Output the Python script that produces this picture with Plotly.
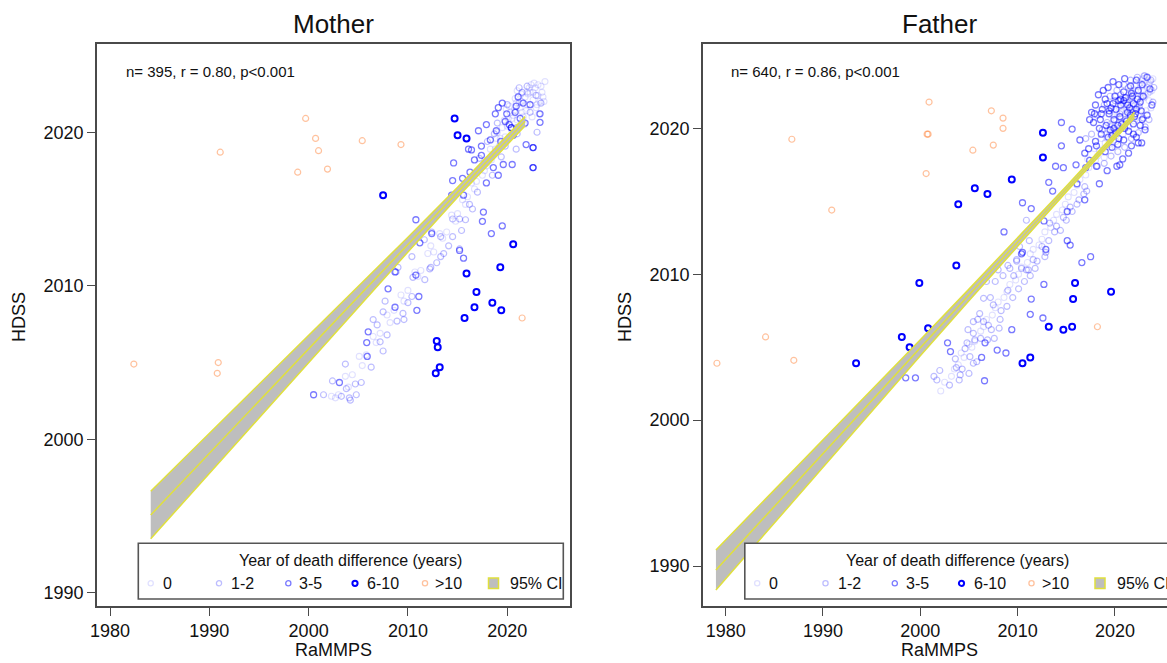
import plotly.graph_objects as go

W, H = 1167, 663

# ---------------- data: (RaMMPS year, HDSS year) per difference category ----------------
MOTHER_GT10 = [(1999.7, 2020.9), (2000.7, 2019.6), (2001.0, 2018.8), (2005.4, 2019.45), (2009.3, 2019.2),
               (1991.1, 2018.7), (1998.9, 2017.4), (2001.9, 2017.6), (1982.4, 2004.9), (1990.9, 2005.0),
               (1990.8, 2004.3), (2021.5, 2007.9)]
MOTHER_D6_10 = [(2007.5, 2015.9), (2014.7, 2020.9), (2015.0, 2019.8), (2015.9, 2019.6), (2020.6, 2012.7),
                (2019.3, 2011.2), (2015.9, 2010.8), (2016.9, 2009.6), (2016.7, 2008.6), (2018.5, 2008.9),
                (2019.4, 2008.4), (2015.7, 2007.9), (2012.9, 2006.4), (2013.0, 2006.0), (2013.2, 2004.7),
                (2012.8, 2004.3)]
MOTHER_D3_5 = [(2019.5, 2021.9), (2018.8, 2021.2), (2017.9, 2020.5), (2017.1, 2020.1), (2016.1, 2018.9),
               (2016.7, 2018.2), (2017.4, 2018.5), (2018.6, 2017.7), (2019.6, 2017.9), (2021.9, 2019.2),
               (2023.3, 2020.65), (2014.6, 2018.0), (2014.5, 2016.85), (2014.4, 2015.9), (2015.6, 2015.9),
               (2010.8, 2014.3), (2012.4, 2013.4), (2017.6, 2014.8), (2017.5, 2014.2), (2018.4, 2013.4),
               (2019.5, 2013.9), (2011.2, 2012.8), (2015.6, 2011.8), (2008.7, 2010.9), (2008.0, 2009.8),
               (2008.7, 2008.6), (2010.9, 2008.4), (2006.0, 2007.0), (2005.85, 2006.3), (2005.9, 2005.4),
               (2003.1, 2003.7), (2000.5, 2002.9), (2016.25, 2017.4), (2017.9, 2016.7), (2019.1, 2017.2),
               (2018.9, 2020.1), (2020.8, 2021.3), (2021.6, 2021.9), (2019.95, 2021.2), (2019.35, 2019.4),
               (2020.5, 2017.9), (2023.3, 2021.2), (2018.3, 2019.5), (2016.4, 2018.85), (2017.4, 2019.1),
               (2015.5, 2017.0), (2010.8, 2010.7), (2011.1, 2009.3), (2022.6, 2019.0), (2022.6, 2017.7),
               (2022.6, 2019.0), (2022.6, 2017.7), (2015.2, 2012.3), (2020.4, 2020.3), (2020.4, 2020.3),
               (2020.2, 2020.5), (2020.9, 2021.7), (2021.3, 2020.9), (2019.8, 2020.7), (2020.6, 2019.8),
               (2021.8, 2020.6), (2019.1, 2021.6), (2022.3, 2021.8), (2021.1, 2022.3)]
MOTHER_D1_2 = [(2014.5, 2014.35), (2015.2, 2014.35), (2015.8, 2014.3), (2013.3, 2013.2), (2014.5, 2013.2),
               (2012.4, 2013.5), (2015.2, 2012.4), (2011.65, 2013.0), (2013.6, 2012.1), (2012.2, 2011.1),
               (2010.5, 2010.55), (2008.8, 2010.9), (2010.4, 2011.9), (2012.3, 2011.2), (2013.3, 2011.9),
               (2006.5, 2007.8), (2006.9, 2007.45), (2007.7, 2009.0), (2007.5, 2008.3), (2007.5, 2005.75),
               (2007.2, 2006.35), (2009.5, 2008.2), (2009.6, 2007.8), (2010.4, 2009.3), (2003.7, 2004.9),
               (2003.8, 2003.3), (2004.1, 2002.7), (2004.7, 2003.6), (2001.5, 2002.9), (2004.2, 2002.55),
               (2018.0, 2019.4), (2019.0, 2020.6), (2020.0, 2021.8), (2021.0, 2019.9), (2021.5, 2022.6),
               (2022.3, 2021.3), (2022.9, 2022.4), (2023.4, 2021.9), (2018.5, 2017.2), (2017.0, 2016.1),
               (2016.2, 2015.3), (2019.8, 2019.1), (2020.9, 2018.9), (2017.8, 2018.0), (2023.0, 2020.0),
               (2021.2, 2022.9), (2022.0, 2023.0), (2021.0, 2020.3), (2019.4, 2018.4), (2018.7, 2019.9),
               (2017.2, 2018.3), (2016.5, 2015.0), (2015.4, 2013.6), (2014.1, 2012.6), (2012.9, 2011.5),
               (2011.7, 2010.4), (2010.0, 2008.9), (2008.9, 2007.7), (2007.9, 2006.8), (2006.3, 2004.7),
               (2005.3, 2003.7), (2004.8, 2002.9), (2003.3, 2002.8), (2002.4, 2003.8), (2009.0, 2011.2)]
MOTHER_D0 = [(2023.4, 2023.0), (2023.1, 2022.4), (2022.8, 2022.9), (2022.6, 2022.1), (2022.3, 2022.6),
             (2022.0, 2021.8), (2021.8, 2022.3), (2021.5, 2021.3), (2021.2, 2021.9), (2021.0, 2020.8),
             (2020.7, 2021.4), (2020.4, 2020.2), (2020.1, 2020.9), (2019.8, 2019.7), (2019.5, 2020.3),
             (2019.2, 2019.1), (2018.9, 2019.6), (2018.6, 2018.5), (2018.3, 2018.9), (2018.0, 2018.2),
             (2017.7, 2017.5), (2017.3, 2017.6), (2016.9, 2016.8), (2016.4, 2016.7), (2016.0, 2015.8),
             (2015.5, 2015.6), (2015.0, 2014.7), (2014.4, 2014.6), (2013.9, 2013.5), (2013.2, 2013.4),
             (2012.6, 2012.2), (2012.0, 2012.1), (2011.3, 2011.0), (2010.7, 2010.9), (2010.0, 2009.7),
             (2009.3, 2009.4), (2008.6, 2008.4), (2007.9, 2008.1), (2007.2, 2006.9), (2006.5, 2006.7),
             (2005.8, 2005.5), (2005.1, 2005.4), (2004.4, 2004.2), (2003.7, 2004.1), (2003.0, 2002.9),
             (2002.3, 2002.8), (2022.9, 2021.6), (2022.1, 2022.5), (2021.4, 2022.0), (2020.6, 2021.1),
             (2019.9, 2021.5), (2023.6, 2022.3), (2021.7, 2020.5), (2020.2, 2021.7), (2019.0, 2020.0),
             (2022.4, 2023.1), (2023.2, 2021.2), (2021.0, 2022.7), (2023.8, 2023.3), (2023.5, 2022.6),
             (2022.7, 2023.2), (2022.2, 2022.9), (2021.9, 2021.4), (2021.3, 2021.6), (2020.9, 2021.9),
             (2020.5, 2020.9), (2020.0, 2020.4), (2019.7, 2020.8), (2019.3, 2019.6), (2018.8, 2018.9),
             (2018.4, 2018.2), (2017.9, 2017.8), (2017.5, 2017.2), (2016.7, 2016.3), (2015.8, 2015.3),
             (2014.8, 2014.2), (2013.5, 2013.1), (2012.3, 2012.6), (2011.0, 2010.6), (2009.6, 2009.0),
             (2008.2, 2007.6), (2006.8, 2006.3), (2005.4, 2004.8), (2004.0, 2003.4), (2002.7, 2002.7),
             (2023.0, 2021.8), (2022.5, 2021.0), (2023.7, 2022.0), (2020.3, 2021.3), (2020.8, 2022.2),
             (2021.4, 2022.5), (2022.0, 2022.6), (2022.6, 2022.6), (2023.1, 2023.1), (2021.6, 2021.0),
             (2020.9, 2020.3), (2019.6, 2019.2), (2023.3, 2022.0)]

FATHER_GT10 = [(2000.9, 2021.8), (1986.8, 2019.25), (2000.8, 2019.6), (2000.7, 2019.6), (2007.3, 2021.2),
               (2008.5, 2020.7), (2008.5, 2020.0), (2005.4, 2018.5), (2007.5, 2018.85), (2000.6, 2016.9),
               (1990.9, 2014.4), (1979.1, 2003.9), (1984.1, 2005.7), (1987.0, 2004.1), (2018.2, 2006.4)]
FATHER_D6_10 = [(2012.6, 2019.7), (2012.6, 2018.0), (2009.4, 2016.5), (2005.6, 2015.9), (2006.9, 2015.5),
                (2003.9, 2014.8), (2003.7, 2010.6), (1999.9, 2009.4), (2000.8, 2006.3), (1998.1, 2005.7),
                (1998.9, 2005.0), (1993.4, 2003.9), (2015.9, 2009.4), (2015.7, 2008.3), (2019.6, 2008.8),
                (2013.2, 2006.4), (2014.7, 2006.2), (2015.6, 2006.4), (2010.5, 2003.9), (2011.3, 2004.3)]
FATHER_D3_5 = [(2014.5, 2020.4), (2015.6, 2019.95), (2014.5, 2018.8), (2013.9, 2017.4), (2014.7, 2017.3),
               (2013.2, 2016.3), (2013.6, 2015.7), (2010.5, 2014.9), (2011.4, 2014.5), (2008.6, 2012.9),
               (2012.7, 2013.65), (2015.1, 2014.3), (2015.4, 2012.0), (2015.1, 2012.3), (2016.6, 2010.8),
               (2017.5, 2011.2), (2010.5, 2011.5), (2012.9, 2011.7), (2018.4, 2016.2), (2016.9, 2015.1),
               (2016.1, 2016.2), (2017.6, 2021.1), (2016.4, 2019.2), (2017.4, 2017.8), (2018.1, 2017.4),
               (2019.2, 2017.1), (2020.2, 2017.4), (2020.5, 2017.5), (2022.4, 2019.0), (2022.75, 2019.0),
               (2022.2, 2019.4), (2017.0, 2017.3), (2012.7, 2009.3), (2011.4, 2008.3), (2011.3, 2007.25),
               (2012.6, 2007.0), (2006.65, 2005.3), (2007.9, 2004.8), (2008.8, 2004.6), (2006.3, 2004.3),
               (2006.6, 2002.7), (2002.8, 2005.3), (2003.1, 2004.7), (1998.5, 2002.9), (1999.5, 2002.9),
               (2009.4, 2006.2), (2010.4, 2011.4), (2018.0, 2021.6), (2018.6, 2021.0), (2019.1, 2020.2),
               (2019.7, 2019.5), (2020.3, 2018.9), (2020.9, 2019.2), (2021.4, 2019.8), (2021.9, 2020.3),
               (2022.6, 2020.2), (2020.6, 2021.6), (2021.1, 2022.1), (2021.7, 2022.4), (2019.4, 2021.2),
               (2018.4, 2020.0), (2019.9, 2020.0), (2020.7, 2020.3), (2021.6, 2020.9), (2022.3, 2022.0),
               (2022.9, 2022.2), (2019.0, 2022.0), (2018.1, 2018.8), (2019.0, 2018.4), (2020.8, 2017.9),
               (2021.4, 2018.3), (2019.4, 2021.0), (2020.1, 2021.3),
               (2017.8, 2020.4), (2018.3, 2022.3), (2018.8, 2022.6), (2019.3, 2022.8), (2019.8, 2023.2),
               (2020.4, 2023.0), (2021.0, 2023.4), (2021.6, 2022.9), (2022.2, 2023.3), (2022.8, 2023.0),
               (2023.3, 2023.5), (2023.6, 2022.7), (2023.8, 2021.6), (2023.3, 2020.9), (2022.8, 2020.6),
               (2022.1, 2021.0), (2021.3, 2021.1), (2020.5, 2020.8), (2019.8, 2021.7), (2020.9, 2021.9),
               (2021.9, 2021.7), (2022.6, 2021.8), (2019.3, 2019.4), (2020.1, 2019.7), (2021.0, 2020.0),
               (2019.7, 2018.7), (2018.6, 2019.6), (2018.0, 2019.1), (2017.4, 2020.6), (2023.1, 2019.9),
               (2021.7, 2018.8), (2020.3, 2020.2), (2022.4, 2022.6), (2017.3, 2018.6), (2016.9, 2018.3),
               (2016.0, 2017.5),
               (2019.6, 2021.4), (2020.0, 2022.2), (2020.4, 2021.9), (2020.9, 2022.5), (2021.3, 2021.6),
               (2021.8, 2022.2), (2022.2, 2021.3), (2022.7, 2021.2), (2019.2, 2021.7), (2018.7, 2021.3),
               (2019.9, 2020.6), (2021.2, 2020.5), (2022.0, 2020.8), (2021.5, 2021.4), (2020.6, 2022.0),
               (2018.5, 2020.6), (2017.9, 2021.0), (2019.5, 2019.9), (2020.4, 2019.3), (2021.9, 2019.6)]
FATHER_D1_2 = [(2001.7, 2002.75), (2001.4, 2003.0), (2004.0, 2002.75), (2004.1, 2003.1), (2004.6, 2004.9),
               (2004.8, 2005.3), (2005.45, 2005.95), (2005.6, 2005.5), (2005.1, 2004.35), (2005.45, 2006.75),
               (2005.9, 2006.9), (2006.5, 2006.75), (2007.0, 2006.5), (2007.3, 2006.2), (2008.1, 2006.3),
               (2008.2, 2006.9), (2007.7, 2009.5), (2006.8, 2009.5), (2008.5, 2009.9), (2009.2, 2010.4),
               (2009.6, 2009.9), (2009.9, 2010.9), (2010.4, 2010.4), (2011.1, 2010.3), (2011.8, 2010.4),
               (2012.8, 2011.2), (2012.9, 2011.5), (2013.3, 2013.5), (2014.0, 2013.3), (2014.7, 2013.9),
               (2015.4, 2014.6), (2016.1, 2014.8), (2016.8, 2015.5), (2017.1, 2015.7), (2010.9, 2013.7),
               (2010.2, 2011.9), (2009.9, 2011.0), (2011.6, 2011.0), (2010.9, 2010.3), (2009.0, 2008.9),
               (2006.5, 2008.35), (2007.5, 2007.9), (2005.45, 2003.9), (2003.7, 2003.6),
               (2018.2, 2020.9), (2018.9, 2021.6), (2019.5, 2022.2), (2020.2, 2022.6), (2020.9, 2023.0),
               (2021.6, 2023.3), (2022.3, 2023.5), (2023.0, 2023.6), (2023.7, 2023.3), (2024.0, 2022.8),
               (2023.9, 2021.8), (2023.5, 2020.6), (2023.1, 2020.1), (2022.4, 2019.7), (2021.7, 2019.3),
               (2021.0, 2018.7), (2020.3, 2018.4), (2019.6, 2018.1), (2018.9, 2017.6), (2018.2, 2017.4),
               (2017.6, 2019.6), (2017.0, 2019.3), (2018.7, 2019.9), (2019.2, 2020.4), (2020.5, 2021.0),
               (2021.1, 2020.6), (2021.8, 2021.1), (2022.5, 2021.5), (2022.9, 2020.7), (2020.0, 2021.9),
               (2020.6, 2022.3), (2021.4, 2022.8),
               (2003.0, 2002.4), (2003.6, 2004.2), (2004.3, 2003.5), (2005.0, 2003.2), (2005.8, 2004.0),
               (2006.2, 2005.6), (2006.9, 2005.5), (2007.6, 2005.6), (2008.3, 2007.5), (2008.9, 2007.8),
               (2009.5, 2008.4), (2010.1, 2009.0), (2010.7, 2009.5), (2011.3, 2009.9), (2012.0, 2010.9),
               (2012.5, 2011.9), (2013.2, 2012.3), (2013.8, 2012.9), (2014.4, 2013.0), (2015.0, 2013.7),
               (2015.6, 2014.3), (2016.3, 2015.1), (2016.9, 2016.0), (2009.0, 2010.6), (2008.0, 2010.3),
               (2011.2, 2012.3), (2002.0, 2003.4), (2004.9, 2006.2), (2006.1, 2007.3), (2007.2, 2008.4)]
FATHER_D0 = [(2002.5, 2002.6), (2003.2, 2003.0), (2003.9, 2003.8), (2004.5, 2004.3), (2005.0, 2005.2),
             (2005.6, 2005.4), (2006.2, 2006.1), (2006.8, 2006.9), (2007.4, 2007.2), (2008.0, 2008.1),
             (2008.6, 2008.4), (2009.2, 2009.3), (2009.8, 2009.6), (2010.4, 2010.5), (2011.0, 2010.8),
             (2011.6, 2011.7), (2012.2, 2012.0), (2012.8, 2012.9), (2013.4, 2013.2), (2014.0, 2014.1),
             (2014.6, 2014.4), (2015.2, 2015.3), (2015.8, 2015.6), (2016.4, 2016.5), (2017.0, 2016.8),
             (2017.5, 2017.6), (2018.0, 2017.8), (2018.4, 2018.5), (2018.8, 2018.6), (2019.2, 2019.3),
             (2019.6, 2019.4), (2020.0, 2020.1), (2020.3, 2019.8), (2020.6, 2020.7), (2020.9, 2020.4),
             (2021.2, 2021.3), (2021.5, 2021.0), (2021.8, 2021.9), (2022.1, 2021.6), (2022.4, 2022.5),
             (2022.7, 2022.2), (2023.0, 2023.1), (2023.3, 2022.8), (2023.6, 2023.2), (2023.8, 2022.6),
             (2022.9, 2023.4), (2022.2, 2023.0), (2021.6, 2022.6), (2021.0, 2022.1), (2020.4, 2021.5),
             (2019.8, 2020.9), (2023.5, 2021.9), (2023.7, 2021.4), (2023.2, 2021.2), (2022.6, 2020.9),
             (2022.0, 2020.5), (2021.4, 2020.1), (2020.8, 2019.6), (2020.1, 2019.1), (2019.5, 2018.7),
             (2018.9, 2018.0), (2023.4, 2022.4), (2022.8, 2022.9), (2021.9, 2022.4), (2021.3, 2021.8),
             (2020.7, 2021.2), (2019.9, 2020.5), (2019.3, 2019.9), (2018.6, 2019.3), (2017.9, 2018.6),
             (2017.2, 2017.9),
             (2002.1, 2002.0), (2003.5, 2003.5), (2004.2, 2004.6), (2005.3, 2005.0), (2006.5, 2006.4),
             (2007.7, 2007.7), (2008.9, 2008.8), (2010.1, 2010.0), (2011.3, 2011.4), (2012.5, 2012.4),
             (2013.7, 2013.7), (2014.9, 2014.8), (2016.1, 2016.1), (2017.3, 2017.3), (2018.2, 2018.1),
             (2019.0, 2019.0), (2019.7, 2019.9), (2020.5, 2020.4), (2021.1, 2021.0), (2021.7, 2021.6),
             (2022.3, 2022.2), (2022.9, 2022.6), (2023.5, 2023.0), (2023.9, 2023.4), (2023.1, 2023.6),
             (2022.0, 2022.9), (2021.4, 2022.3), (2020.8, 2021.7), (2020.2, 2021.0), (2019.5, 2020.3),
             (2019.1, 2019.6), (2019.6, 2020.1), (2020.1, 2020.6), (2020.6, 2021.1), (2021.1, 2021.6),
             (2021.6, 2022.1), (2022.1, 2022.6), (2022.6, 2023.1), (2023.1, 2022.3), (2022.5, 2021.7),
             (2021.9, 2021.2), (2021.3, 2020.6), (2020.7, 2020.0), (2020.1, 2019.5), (2019.4, 2018.9),
             (2023.6, 2022.5), (2023.0, 2022.1), (2022.3, 2021.4), (2021.6, 2020.8), (2020.9, 2020.2)]

# fitted line with 95% CI, read at several RaMMPS years
MOTHER_FIT_X = [1984.1, 1990, 1995, 2000, 2005, 2010, 2015, 2020, 2021.8]
MOTHER_FIT = [1995.07, 1999.08, 2002.47, 2005.88, 2009.28, 2012.68, 2016.09, 2019.49, 2020.72]
MOTHER_UPPER = [1996.62, 2000.38, 2003.55, 2006.75, 2009.95, 2013.16, 2016.42, 2019.77, 2021.02]
MOTHER_LOWER = [1993.52, 1997.78, 2001.39, 2005.01, 2008.61, 2012.20, 2015.76, 2019.21, 2020.42]

FATHER_FIT_X = [1979.0, 1985, 1990, 1995, 2000, 2005, 2010, 2015, 2020, 2022.0]
FATHER_FIT = [1989.73, 1994.08, 1997.71, 2001.33, 2004.96, 2008.58, 2012.21, 2015.83, 2019.46, 2020.91]
FATHER_UPPER = [1991.10, 1995.20, 1998.64, 2002.07, 2005.51, 2008.98, 2012.48, 2016.03, 2019.64, 2021.11]
FATHER_LOWER = [1988.36, 1992.96, 1996.78, 2000.59, 2004.41, 2008.18, 2011.94, 2015.63, 2019.28, 2020.71]

TITLES = ["Mother", "Father"]
STATS = ["n= 395, r = 0.80, p<0.001", "n= 640, r = 0.86, p<0.001"]
CATEGORIES = ["0", "1-2", "3-5", "6-10", ">10"]
X_TICKS = [1980, 1990, 2000, 2010, 2020]
Y_TICKS = [1990, 2000, 2010, 2020]

# ---------------- styles ----------------
FONT = "Liberation Sans, Arial, sans-serif"
AXCOL = "#4a4a4a"
YELLOW = "#e0e03c"
GREY = "#bebebe"
CAT_STYLE = {
    "0": ("rgba(0,0,255,0.12)", 1.1),
    "1-2": ("rgba(0,0,255,0.26)", 1.2),
    "3-5": ("rgba(0,0,255,0.52)", 1.3),
    "6-10": ("rgba(0,0,255,1)", 2.0),
    ">10": ("rgba(255,120,40,0.45)", 1.2),
}

fig = go.Figure()


def add_points(pts, cat, xa, ya):
    col, lw = CAT_STYLE[cat]
    fig.add_trace(go.Scatter(
        x=[p[0] for p in pts], y=[p[1] for p in pts], mode="markers",
        marker=dict(symbol="circle-open", size=6, color=col, line=dict(width=lw, color=col)),
        xaxis=xa, yaxis=ya, showlegend=False, hoverinfo="skip"))


def add_band(xs, fit, up, lo, xa, ya):
    fig.add_trace(go.Scatter(x=xs, y=lo, mode="lines", line=dict(color=YELLOW, width=1.5),
                             xaxis=xa, yaxis=ya, showlegend=False, hoverinfo="skip"))
    fig.add_trace(go.Scatter(x=xs, y=up, mode="lines", line=dict(color=YELLOW, width=1.5),
                             fill="tonexty", fillcolor=GREY,
                             xaxis=xa, yaxis=ya, showlegend=False, hoverinfo="skip"))
    fig.add_trace(go.Scatter(x=xs, y=fit, mode="lines", line=dict(color=YELLOW, width=1.5),
                             xaxis=xa, yaxis=ya, showlegend=False, hoverinfo="skip"))


panels = [
    ("x", "y", [MOTHER_D0, MOTHER_D1_2, MOTHER_D3_5, MOTHER_D6_10, MOTHER_GT10],
     (MOTHER_FIT_X, MOTHER_FIT, MOTHER_UPPER, MOTHER_LOWER)),
    ("x2", "y2", [FATHER_D0, FATHER_D1_2, FATHER_D3_5, FATHER_D6_10, FATHER_GT10],
     (FATHER_FIT_X, FATHER_FIT, FATHER_UPPER, FATHER_LOWER)),
]
for xa, ya, groups, band in panels:
    for cat, pts in zip(CATEGORIES, groups):
        add_points(pts, cat, xa, ya)
    add_band(*band, xa, ya)


def PX(v):
    return v / W


def PY(v):
    return 1 - v / H


axis_common = dict(showgrid=False, zeroline=False, showline=True, linecolor=AXCOL, linewidth=1.6,
                   ticks="outside", ticklen=8, tickwidth=1.4, tickcolor=AXCOL, automargin=False,
                   tickfont=dict(family=FONT, size=18, color="#111"))

fig.update_layout(
    width=W, height=H, margin=dict(l=0, r=0, t=0, b=0, pad=0, autoexpand=False),
    paper_bgcolor="white", plot_bgcolor="white", showlegend=False,
    xaxis=dict(domain=[PX(97), PX(570)], range=[1978.69, 2026.32], tickvals=X_TICKS, mirror=True,
               anchor="y", **axis_common),
    yaxis=dict(domain=[PY(606), PY(44)], range=[1989.14, 2025.75], tickvals=Y_TICKS, mirror=True,
               anchor="x", **axis_common),
    xaxis2=dict(domain=[PX(703), 1.0], range=[1977.67, 2025.35], tickvals=X_TICKS, mirror=True,
                anchor="y2", **axis_common),
    yaxis2=dict(domain=[PY(606), PY(44)], range=[1987.26, 2025.78], tickvals=Y_TICKS, mirror=False,
                anchor="x2", **axis_common),
)

annotations = []
shapes = []


def text(x, y, s, size, anchor="center", angle=0):
    annotations.append(dict(x=PX(x), y=PY(y), xref="paper", yref="paper", text=s, showarrow=False,
                            xanchor=anchor, yanchor="middle", textangle=angle,
                            font=dict(family=FONT, size=size, color="#111")))


centers = [333.5, 939.5]
stat_x = [123.5, 728.5]
ylab_x = [19, 625]
for i in range(2):
    text(centers[i], 24, TITLES[i], 26)
    text(stat_x[i], 71.5, STATS[i], 15, anchor="left")
    text(centers[i], 650, "RaMMPS", 18)
    text(ylab_x[i], 317, "HDSS", 18, angle=-90)

# legends (drawn as boxes on top of the plot area)
marker_offsets = [12.4, 80.7, 150.0, 216.7, 286.7]
label_offsets = [22.4, 91.0, 159.0, 226.7, 295.0]
for off in [138.3, 744.8]:
    shapes.append(dict(type="rect", xref="paper", yref="paper", x0=PX(off), x1=PX(off + 425),
                       y0=PY(599), y1=PY(543.3), line=dict(color="#555", width=1.6),
                       fillcolor="white", layer="above"))
    text(off + 212.5, 560.7, "Year of death difference (years)", 16)
    for cat, mo, lo in zip(CATEGORIES, marker_offsets, label_offsets):
        col, lw = CAT_STYLE[cat]
        cx, cy, r = off + mo, 583.3, 2.6
        shapes.append(dict(type="circle", xref="paper", yref="paper", x0=PX(cx - r), x1=PX(cx + r),
                           y0=PY(cy + r), y1=PY(cy - r), line=dict(color=col, width=max(lw, 1.3)),
                           layer="above"))
        text(off + lo, 583.3, cat, 16, anchor="left")
    sx = off + 355.2
    shapes.append(dict(type="rect", xref="paper", yref="paper", x0=PX(sx - 5), x1=PX(sx + 5),
                       y0=PY(588.5), y1=PY(578.0), line=dict(color=YELLOW, width=1.5),
                       fillcolor=GREY, layer="above"))
    text(off + 370.0, 583.3, "95% CI", 16, anchor="left")

fig.update_layout(annotations=annotations, shapes=shapes)
fig.write_html("out.html")
